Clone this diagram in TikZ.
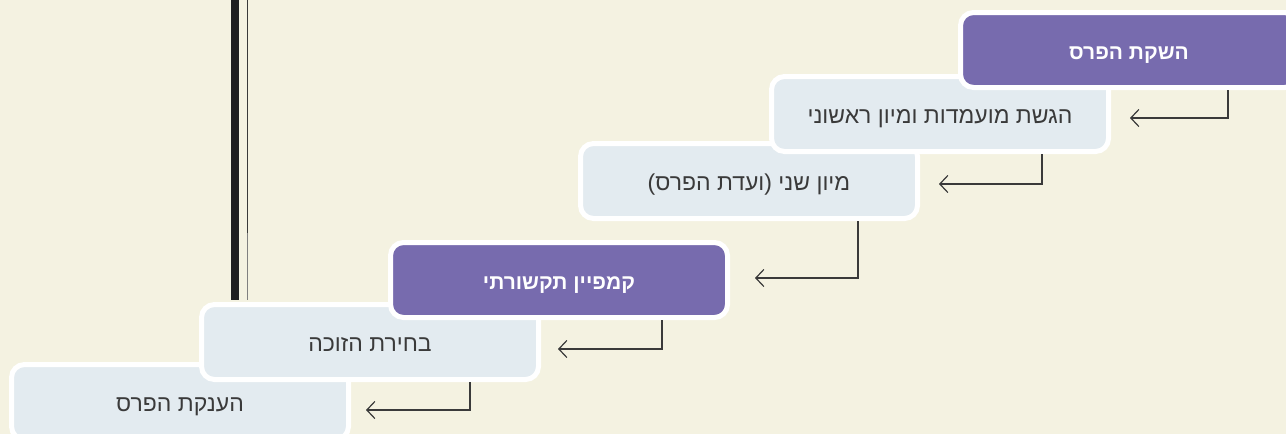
\documentclass[tikz,border=0pt]{standalone}
\usepackage{fontspec}
\setmainfont{Liberation Sans}
\newfontfamily\hebfont[Script=Hebrew]{Liberation Sans}
\TeXXeTstate=1
\usepackage{tikz}
\usetikzlibrary{arrows.meta}

\definecolor{bgcream}{HTML}{F4F2E1}
\definecolor{stepblue}{HTML}{E3EBF0}
\definecolor{steppurple}{HTML}{776BAE}
\definecolor{linegray}{HTML}{3A3A3A}

\tikzset{
  stage/.style={rectangle, rounded corners=13pt, draw=white, line width=5pt,
    fill=stepblue, minimum width=337pt, minimum height=75pt, text=linegray,
    text height=18pt, text depth=0pt,
    font=\hebfont\fontsize{23}{26}\selectfont},
  keystage/.style={stage, fill=steppurple, text=white,
    font=\hebfont\bfseries\fontsize{21}{24}\selectfont},
  flow/.style={-{Straight Barb[length=8pt,width=17pt]}, line width=1.2pt, draw=linegray},
}

\begin{document}
\begin{tikzpicture}[x=1pt, y=1pt, node distance=65pt]
  \fill[bgcream] (0,0) rectangle (1286,-434);
  \useasboundingbox (0,0) rectangle (1286,-434);

  % the two rails at the left
  \fill[black!88] (231,0) rectangle (239,-300);
  \draw[line width=1.5pt, linegray] (247.5,0) -- (247.5,-233);
  \draw[line width=1.5pt, gray] (247.5,-233) -- (247.5,-300);

  % stages, bottom first so that the upper ones lie on top
  \node (award) [stage] at (180,-402) {\beginR הענקת הפרס\endR};
  \node (winner) [stage, above of=award, xshift=190pt, yshift=-5pt] {\beginR בחירת הזוכה\endR};
  \node (campaign) [keystage, above of=winner, xshift=189pt, yshift=-3pt] {\beginR קמפיין תקשורתי\endR};
  \node (second) [stage, above of=campaign, xshift=190pt, yshift=34pt] {\beginR מיון שני (ועדת הפרס)\endR};
  \node (submit) [stage, above of=second, xshift=191pt, yshift=2pt] {\beginR הגשת מועמדות ומיון ראשוני\endR};
  \node (launch) [keystage, above of=submit, xshift=189pt, yshift=-1pt] {\beginR השקת הפרס\endR};

  \draw[flow] ([xshift=99pt]launch.south) |- ([xshift=19pt, yshift=-4pt]submit.east);
  \draw[flow] ([xshift=102pt]submit.south) |- ([xshift=19pt, yshift=-3pt]second.east);
  \draw[flow] ([xshift=109pt]second.south) |- ([xshift=25pt, yshift=2pt]campaign.east);
  \draw[flow] ([xshift=103pt]campaign.south) |- ([xshift=17pt, yshift=-7pt]winner.east);
  \draw[flow] ([xshift=100pt]winner.south) |- ([xshift=15pt, yshift=-8pt]award.east);
\end{tikzpicture}
\end{document}
